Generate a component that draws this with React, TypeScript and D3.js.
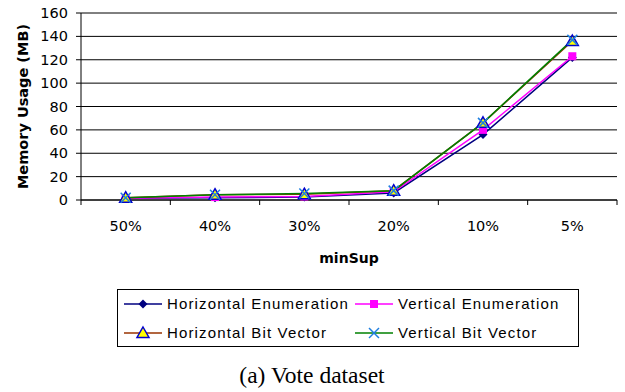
import React from "react";
import * as d3 from "d3";

const categories = ["50%", "40%", "30%", "20%", "10%", "5%"];
const horizontalEnum = [1.5, 2, 2.5, 6, 56, 122];
const verticalEnum = [1.5, 2.5, 3, 7, 60, 123];
const horizontalBit = [2, 4.5, 5, 8, 66, 136];
const verticalBit = [2, 4.5, 5.5, 8, 66, 137];
const yTicks = [0, 20, 40, 60, 80, 100, 120, 140, 160];

const series = [
  { name: "Horizontal Enumeration", values: horizontalEnum, line: "#000080", marker: "diamond" },
  { name: "Vertical Enumeration", values: verticalEnum, line: "#FF00FF", marker: "square" },
  { name: "Horizontal Bit Vector", values: horizontalBit, line: "#993300", marker: "triangle" },
  { name: "Vertical Bit Vector", values: verticalBit, line: "#008000", marker: "x" },
];

const W = 625;
const H = 392;
const left = 81;
const right = 617;
const top = 13;
const bottom = 200;
const sans = "'DejaVu Sans', Verdana, sans-serif";

function Marker({ kind, x, y }: { kind: string; x: number; y: number }) {
  if (kind === "diamond") {
    return <path d={`M${x},${y - 4.5}L${x + 4.5},${y}L${x},${y + 4.5}L${x - 4.5},${y}Z`} fill="#000080" />;
  }
  if (kind === "square") {
    return <rect x={x - 4} y={y - 4} width={8} height={8} fill="#FF00FF" />;
  }
  if (kind === "triangle") {
    return (
      <path
        d={`M${x},${y - 6}L${x + 6},${y + 4.5}L${x - 6},${y + 4.5}Z`}
        fill="#FFFF00"
        stroke="#0000CC"
        strokeWidth={1.5}
      />
    );
  }
  return (
    <g stroke="#1E7FE0" strokeWidth={1.5}>
      <line x1={x - 5} y1={y - 5} x2={x + 5} y2={y + 5} />
      <line x1={x - 5} y1={y + 5} x2={x + 5} y2={y - 5} />
    </g>
  );
}

export default function App() {
  const x = d3.scaleBand<string>().domain(categories).range([left, right]);
  const y = d3.scaleLinear().domain([0, 160]).range([bottom, top]);
  const cx = (c: string) => (x(c) as number) + x.bandwidth() / 2;
  const line = d3
    .line<number>()
    .x((_, i) => cx(categories[i]))
    .y((v) => y(v));

  const boundaries = categories.map((c) => x(c) as number).concat([right]);

  const legendItems = [
    { s: series[0], lx: 124, ty: 304 },
    { s: series[1], lx: 355, ty: 304 },
    { s: series[2], lx: 124, ty: 333 },
    { s: series[3], lx: 355, ty: 333 },
  ];

  return (
    <svg width={W} height={H} style={{ position: "absolute", left: 0, top: 0, background: "#fff" }}>
      <rect x={0} y={0} width={W} height={H} fill="#fff" />
      {/* gridlines */}
      {yTicks.map((t) => (
        <line key={t} x1={left} x2={right} y1={y(t)} y2={y(t)} stroke="#000" strokeWidth={1} />
      ))}
      {/* y axis */}
      <line x1={left} x2={left} y1={top} y2={bottom} stroke="#000" />
      {yTicks.map((t) => (
        <g key={"yt" + t}>
          <line x1={left - 5} x2={left} y1={y(t)} y2={y(t)} stroke="#000" />
          <text x={68} y={y(t)} dy="0.35em" textAnchor="end" fontFamily={sans} fontSize={14.5} fill="#000">
            {t}
          </text>
        </g>
      ))}
      {/* x axis */}
      <line x1={left} x2={right} y1={bottom} y2={bottom} stroke="#000" />
      {boundaries.map((b, i) => (
        <line key={"xt" + i} x1={b} x2={b} y1={bottom} y2={bottom + 5} stroke="#000" />
      ))}
      {categories.map((c) => (
        <text key={c} x={cx(c)} y={226} dy="0.35em" textAnchor="middle" fontFamily={sans} fontSize={14.5} fill="#000">
          {c}
        </text>
      ))}
      <text x={(left + right) / 2} y={258} dy="0.35em" textAnchor="middle" fontFamily={sans} fontWeight="bold" fontSize={14} fill="#000">
        minSup
      </text>
      <text
        transform={`translate(23,${(top + bottom) / 2}) rotate(-90)`}
        textAnchor="middle"
        dy="0.35em"
        fontFamily={sans}
        fontWeight="bold"
        fontSize={14.5}
        fill="#000"
      >
        Memory Usage (MB)
      </text>
      {/* series lines */}
      {series.map((s) => (
        <path key={s.name} d={line(s.values) || ""} fill="none" stroke={s.line} strokeWidth={1.5} />
      ))}
      {series.map((s) =>
        s.values.map((v, i) => <Marker key={s.name + i} kind={s.marker} x={cx(categories[i])} y={y(v)} />)
      )}
      {/* legend */}
      <rect x={117.5} y={289.5} width={461} height={57} fill="#fff" stroke="#000" />
      {legendItems.map(({ s, lx, ty }) => (
        <g key={"lg" + s.name}>
          <line x1={lx} x2={lx + 38} y1={ty} y2={ty} stroke={s.line} strokeWidth={1.5} />
          <Marker kind={s.marker} x={lx + 19} y={ty} />
          <text x={lx + 43} y={ty} dy="0.35em" fontFamily="'Liberation Sans', Arial, sans-serif" fontSize={15} letterSpacing={1.15} fill="#000">
            {s.name}
          </text>
        </g>
      ))}
      <text x={312} y={375} dy="0.35em" textAnchor="middle" fontFamily="'Liberation Serif', 'Times New Roman', serif" fontSize={23.5} fill="#000">
        (a) Vote dataset
      </text>
    </svg>
  );
}
